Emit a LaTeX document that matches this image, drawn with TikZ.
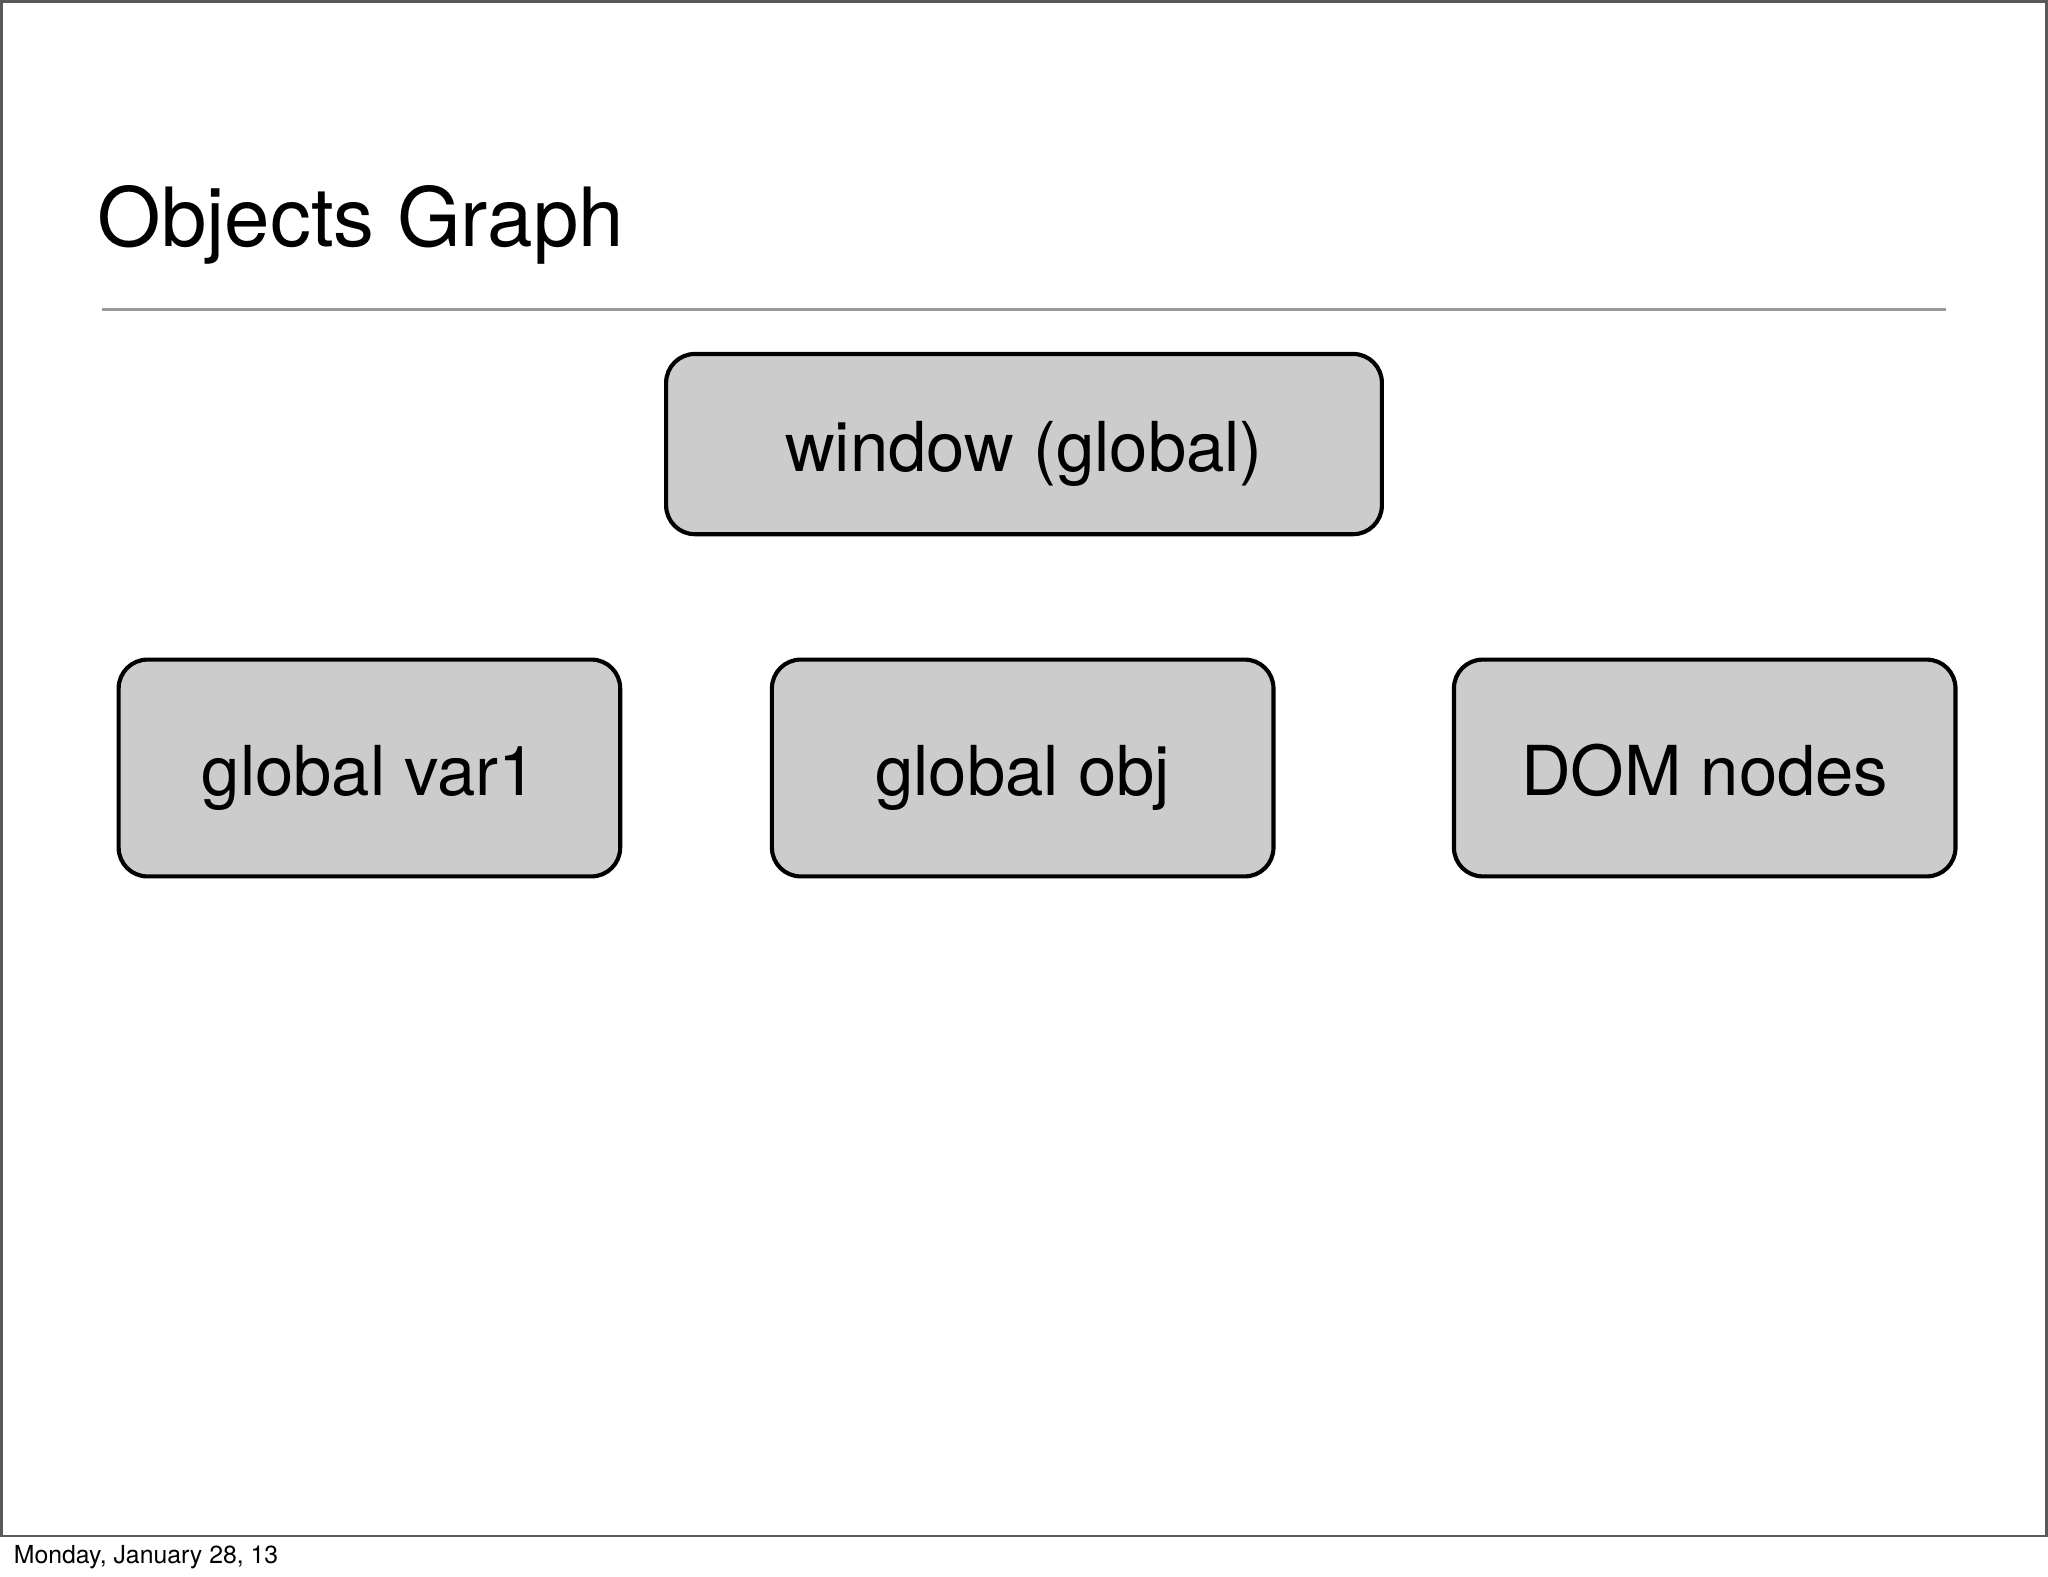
\documentclass[tikz,border=0pt]{standalone}
\usepackage{fontspec}
\setmainfont{TeX Gyre Heros}
\usetikzlibrary{positioning}

\begin{document}
\begin{tikzpicture}[
    slide frame/.style={draw=black!65, line width=0.6pt},
    title rule/.style={draw=black!40, line width=0.8pt},
    object/.style={draw=black, line width=0.9pt, fill=black!20,
    rounded corners=0.22cm, minimum width=3.84cm, minimum height=1.66cm,
    text height=0.52cm, text depth=0.10cm,
    font=\fontsize{15}{17}\selectfont},
    every node/.style={color=black, inner sep=0pt}
    ]
    \useasboundingbox (0,0) rectangle (15.68,-12.07);
    % frame
    \draw[slide frame] (0.01,-0.01) rectangle (15.67,-11.76);
    \node(footer)[anchor=base west, font=\fontsize{5.4}{6}\selectfont]
        at (0.10,-11.97) {Monday, January 28, 13};
    % title and rule
    \node(title)[anchor=base west, font=\fontsize{17.8}{20}\selectfont]
        at (0.74,-1.89) {Objects Graph};
    \draw[title rule] (0.78,-2.37) coordinate (ruleleft) -- (14.90,-2.37)
        coordinate (ruleright);
    % Objects
    \node[object, minimum width=5.48cm, minimum height=1.38cm] (window)
        at (7.84,-3.40) {window (global)};
    \node[object] (obj) at (7.83,-5.88) {global obj};
    \node[object, left=1.13cm of obj] (var1) {global var1};
    \node[object, right=1.35cm of obj] (dom) {DOM nodes};
\end{tikzpicture}
\end{document}
